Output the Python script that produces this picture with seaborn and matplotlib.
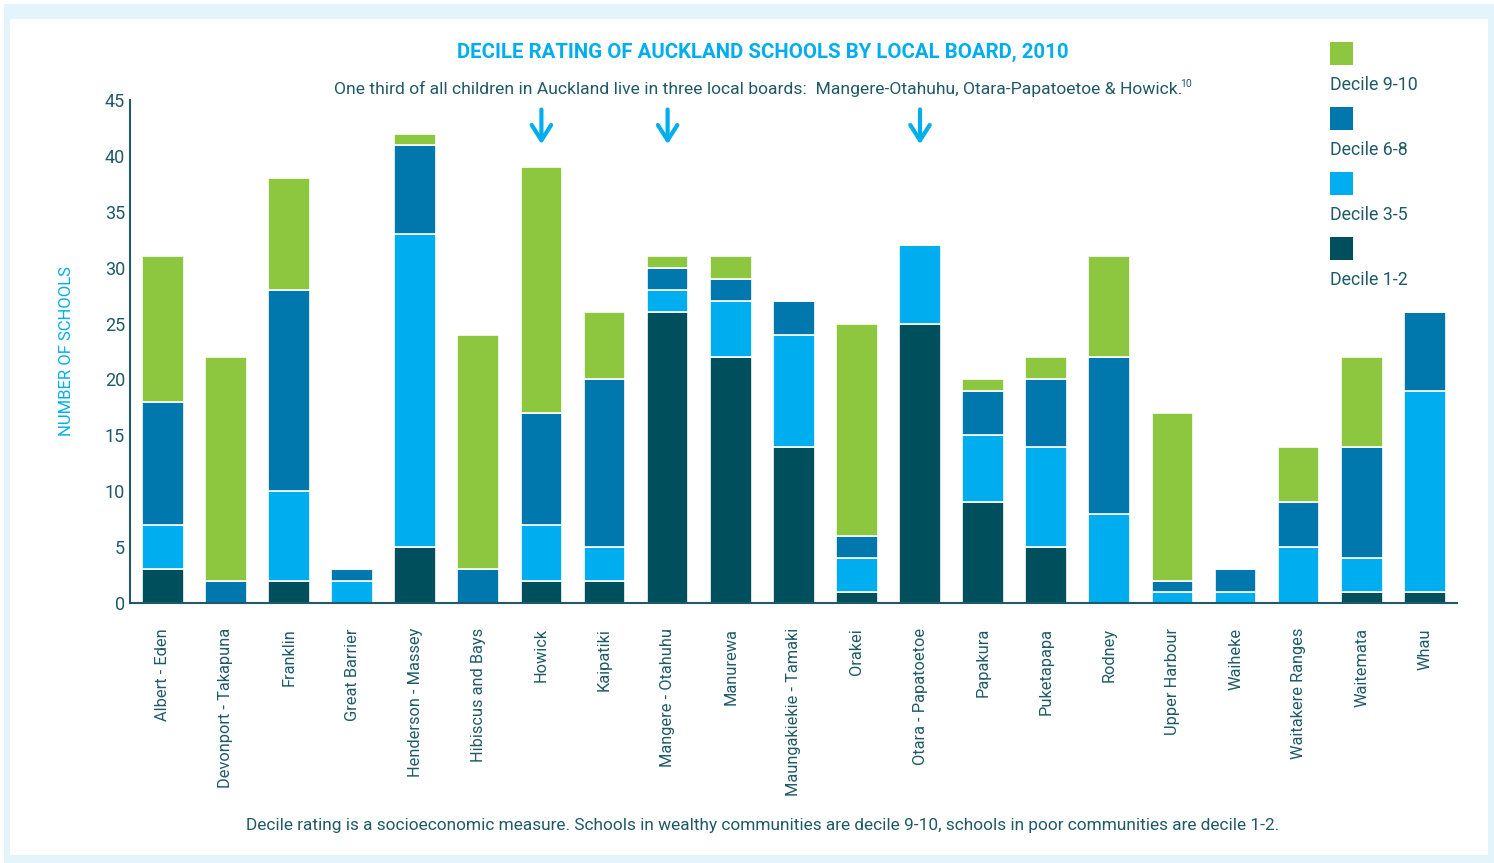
import numpy as np
import pandas as pd
import matplotlib
matplotlib.use("Agg")
import matplotlib.pyplot as plt
from matplotlib.patches import Rectangle
import seaborn as sns

boards = ["Albert - Eden", "Devonport - Takapuna", "Franklin", "Great Barrier",
          "Henderson - Massey", "Hibiscus and Bays", "Howick", "Kaipatiki",
          "Mangere - Otahuhu", "Manurewa", "Maungakiekie - Tamaki", "Orakei",
          "Otara - Papatoetoe", "Papakura", "Puketapapa", "Rodney",
          "Upper Harbour", "Waiheke", "Waitakere Ranges", "Waitemata", "Whau"]

decile_1_2 = [3, 0, 2, 0, 5, 0, 2, 2, 26, 22, 14, 1, 25, 9, 5, 0, 0, 0, 0, 1, 1]
decile_3_5 = [4, 0, 8, 2, 28, 0, 5, 3, 2, 5, 10, 3, 7, 6, 9, 8, 1, 1, 5, 3, 18]
decile_6_8 = [11, 2, 18, 1, 8, 3, 10, 15, 2, 2, 3, 2, 0, 4, 6, 14, 1, 2, 4, 10, 7]
decile_9_10 = [13, 20, 10, 0, 1, 21, 22, 6, 1, 2, 0, 19, 0, 1, 2, 9, 15, 0, 5, 8, 0]

layers = ["Decile 1-2", "Decile 3-5", "Decile 6-8", "Decile 9-10"]
colors = ["#004f5c", "#00aeef", "#0077ad", "#8dc63f"]
highlight = ["Howick", "Mangere - Otahuhu", "Otara - Papatoetoe"]

text_col = "#1f5a66"
cyan = "#00aeef"

sns.set_style("white")
plt.rcParams["font.family"] = ["Roboto", "DejaVu Sans"]

df = pd.DataFrame({"board": boards, layers[0]: decile_1_2, layers[1]: decile_3_5,
                   layers[2]: decile_6_8, layers[3]: decile_9_10})

fig = plt.figure(figsize=(14.94, 8.63), dpi=100)
fig.patch.set_facecolor("white")
W, H = 1494, 863
# light cyan frame round the panel
fig.patches.append(Rectangle((4 / W, 0), 1490 / W, 859 / H, transform=fig.transFigure,
                             facecolor="#e3f4fb", edgecolor="none", zorder=-6))
fig.patches.append(Rectangle((10 / W, 8 / H), 1478 / W, 836 / H, transform=fig.transFigure,
                             facecolor="white", edgecolor="none", zorder=-5))

ax = fig.add_axes([130 / W, 1 - 603 / H, 1327 / W, 503 / H])
ax.set_facecolor("none")
ax.set_zorder(2)

bottom = np.zeros(len(boards))
for name, col in zip(layers, colors):
    sns.barplot(data=df, x="board", y=name, bottom=bottom, color=col, width=0.66,
                edgecolor="white", linewidth=1.2, saturation=1, ax=ax)
    bottom = bottom + df[name].values

ax.set_xlim(-0.52, len(boards) - 0.49)
ax.set_ylim(0, 45)
ax.set_yticks(range(0, 46, 5))
ax.set_xlabel("")
ax.set_ylabel("NUMBER OF SCHOOLS", color=cyan, fontsize=12, labelpad=22)
ax.tick_params(axis="both", length=0, colors=text_col, labelsize=13)
ax.tick_params(axis="x", pad=18, labelsize=11.8)
plt.setp(ax.get_xticklabels(), rotation=90, va="top", ha="center")
for side in ["top", "right"]:
    ax.spines[side].set_visible(False)
for side in ["left", "bottom"]:
    ax.spines[side].set_color(text_col)
    ax.spines[side].set_linewidth(1.5)

for b in highlight:
    i = boards.index(b)
    ax.annotate("", xy=(i, 40.8), xytext=(i, 44.4), annotation_clip=False,
                arrowprops=dict(arrowstyle="->,head_length=1.1,head_width=0.7",
                                color=cyan, lw=3))

fig.text(763 / W, 1 - 52 / H, "DECILE RATING OF AUCKLAND SCHOOLS BY LOCAL BOARD, 2010",
         color=cyan, fontsize=14.7, fontweight="bold", ha="center", va="center")
sub = fig.text(758 / W, 1 - 89 / H,
               "One third of all children in Auckland live in three local boards:  "
               "Mangere-Otahuhu, Otara-Papatoetoe & Howick.",
               color=text_col, fontsize=12.6, ha="center", va="center")
fig.canvas.draw()
bb = sub.get_window_extent()
fig.text((bb.x1 - 2) / W, 1 - 84 / H, "10", color=text_col, fontsize=7.5,
         ha="left", va="center")
fig.text(763 / W, 1 - 825 / H,
         "Decile rating is a socioeconomic measure. Schools in wealthy communities are "
         "decile 9-10, schools in poor communities are decile 1-2.",
         color=text_col, fontsize=12.4, ha="center", va="center")

# legend, top entry is the top layer
for k, (name, col) in enumerate(zip(layers[::-1], colors[::-1])):
    y0 = 42 + k * 65
    fig.patches.append(Rectangle((1330 / W, 1 - (y0 + 23) / H), 23 / W, 23 / H,
                                 transform=fig.transFigure, facecolor=col,
                                 edgecolor="none", zorder=2))
    fig.text(1330 / W, 1 - (y0 + 43) / H, name, color=text_col, fontsize=12.8,
             ha="left", va="center")

fig.savefig("out.png", dpi=100, facecolor=fig.get_facecolor())
